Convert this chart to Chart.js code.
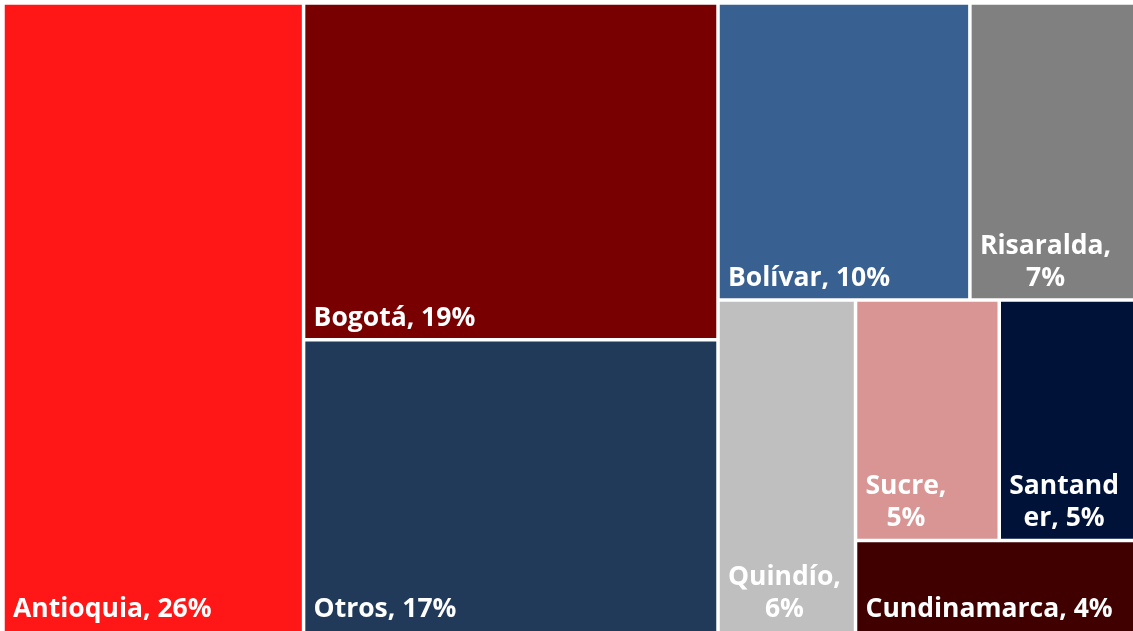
<!DOCTYPE html>
<html>
<head>
<meta charset="utf-8">
<script src="https://cdn.jsdelivr.net/npm/chart.js@4.4.1/dist/chart.umd.min.js"></script>
<style>
  html, body { margin: 0; padding: 0; overflow: hidden; background: #fff; }
  #wrap { position: absolute; left: 0; top: 0; width: 1137px; height: 635px; }
</style>
</head>
<body>
<div id="wrap"><canvas id="chart"></canvas></div>
<script>
// data (share of total, %)
const regions = ['Antioquia', 'Bogotá', 'Otros', 'Bolívar', 'Risaralda', 'Quindío', 'Sucre', 'Santander', 'Cundinamarca'];
const shares = [26.4, 19.4, 17.0, 10.4, 6.9, 6.4, 4.8, 4.6, 3.7];
const colors = ['#FF1616', '#780000', '#213A59', '#386192', '#808080', '#BFBFBF', '#D99594', '#001238', '#400000'];

// how the rectangles nest: 'h' = side by side, 'v' = stacked, numbers are indexes into the arrays
const tree = ['h', 0, ['v', 1, 2], ['v', ['h', 3, 4], ['h', 5, ['v', ['h', 6, 7], 8]]]];

function sumOf(node) {
  if (typeof node === 'number') return shares[node];
  return node.slice(1).reduce((s, n) => s + sumOf(n), 0);
}

// splits a box in data units (0..1 on both axes) following the tree
function layout(node, box, out) {
  if (typeof node === 'number') { out[node] = box; return; }
  const dir = node[0];
  const kids = node.slice(1);
  const total = sumOf(node);
  let pos = dir === 'h' ? box.x0 : box.y0;
  kids.forEach(k => {
    const f = sumOf(k) / total;
    if (dir === 'h') {
      const w = (box.x1 - box.x0) * f;
      layout(k, { x0: pos, x1: pos + w, y0: box.y0, y1: box.y1 }, out);
      pos += w;
    } else {
      const h = (box.y1 - box.y0) * f;
      layout(k, { x0: box.x0, x1: box.x1, y0: pos, y1: pos + h }, out);
      pos += h;
    }
  });
}

// small treemap controller: each cell is a bar element placed through the x/y scales
class TreemapLite extends Chart.DatasetController {
  parse(start, count) {
    const meta = this._cachedMeta;
    const data = this.getDataset().data;
    for (let i = start; i < start + count; i++) {
      meta._parsed[i] = { x: 0, y: 0, v: data[i] };
    }
  }
  update(mode) {
    const meta = this._cachedMeta;
    this.updateElements(meta.data, 0, meta.data.length, mode);
  }
  updateElements(rects, start, count, mode) {
    const meta = this._cachedMeta;
    const xs = meta.xScale, ys = meta.yScale;
    const boxes = [];
    layout(tree, { x0: 0, x1: 1, y0: 0, y1: 1 }, boxes);
    for (let i = start; i < start + count; i++) {
      const b = boxes[i];
      const left = xs.getPixelForValue(b.x0), right = xs.getPixelForValue(b.x1);
      const top = ys.getPixelForValue(b.y0), bottom = ys.getPixelForValue(b.y1);
      this.updateElement(rects[i], i, {
        x: (left + right) / 2,
        y: top,
        base: bottom,
        width: right - left,
        height: bottom - top,
        horizontal: false,
        borderSkipped: {},
        inflateAmount: 0,
        options: this.resolveDataElementOptions(i, mode)
      }, mode);
    }
  }
}
TreemapLite.id = 'treemapLite';
TreemapLite.defaults = { datasetElementType: false, dataElementType: 'bar' };
Chart.register(TreemapLite);

const FONT_SIZE = 26.5;
const LINE_H = 32;
const PAD = 10;

// wrap on spaces at wrapW, split a single word only when it is wider than breakW
function wrapText(ctx, text, wrapW, breakW) {
  const lines = [];
  let cur = '';
  text.split(' ').forEach(word => {
    const test = cur ? cur + ' ' + word : word;
    if (ctx.measureText(test).width <= wrapW) { cur = test; return; }
    if (cur) lines.push(cur);
    cur = '';
    if (ctx.measureText(word).width <= breakW) { cur = word; return; }
    let piece = '';
    for (const ch of word) {
      if (ctx.measureText(piece + ch).width > breakW && piece) { lines.push(piece); piece = ''; }
      piece += ch;
    }
    cur = piece;
  });
  if (cur) lines.push(cur);
  return lines;
}

const cellLabels = {
  id: 'cellLabels',
  afterDatasetsDraw(chart) {
    const ctx = chart.ctx;
    const meta = chart.getDatasetMeta(0);
    ctx.save();
    ctx.font = 'bold ' + FONT_SIZE + 'px "Open Sans"';
    ctx.fillStyle = '#ffffff';
    ctx.textBaseline = 'alphabetic';
    meta.data.forEach((el, i) => {
      const { x, base, width } = el.getProps(['x', 'base', 'width'], true);
      const left = x - width / 2;
      const text = regions[i] + ', ' + Math.round(shares[i]) + '%';
      const lines = wrapText(ctx, text, width - 26, width - 20);
      const blockW = Math.max(...lines.map(l => ctx.measureText(l).width));
      const bottom = Math.min(base, chart.height - 4);
      lines.forEach((line, j) => {
        const yy = bottom - 14 - (lines.length - 1 - j) * LINE_H;
        if (lines.length > 1) {
          ctx.textAlign = 'center';
          ctx.fillText(line, left + PAD + blockW / 2, yy);
        } else {
          ctx.textAlign = 'left';
          ctx.fillText(line, left + PAD, yy);
        }
      });
    });
    ctx.restore();
  }
};

new Chart(document.getElementById('chart'), {
  type: 'treemapLite',
  data: {
    labels: regions,
    datasets: [{
      data: shares,
      backgroundColor: colors,
      borderColor: '#ffffff',
      borderWidth: 1.75,
      borderSkipped: false
    }]
  },
  options: {
    responsive: true,
    maintainAspectRatio: false,
    animation: false,
    layout: { padding: { left: 3, top: 3, right: 0, bottom: 0 } },
    scales: {
      x: { type: 'linear', min: 0, max: 1, display: false },
      y: { type: 'linear', min: 0, max: 1, display: false, reverse: true }
    },
    plugins: { legend: { display: false }, tooltip: { enabled: false } }
  },
  plugins: [cellLabels]
});
</script>
</body>
</html>
